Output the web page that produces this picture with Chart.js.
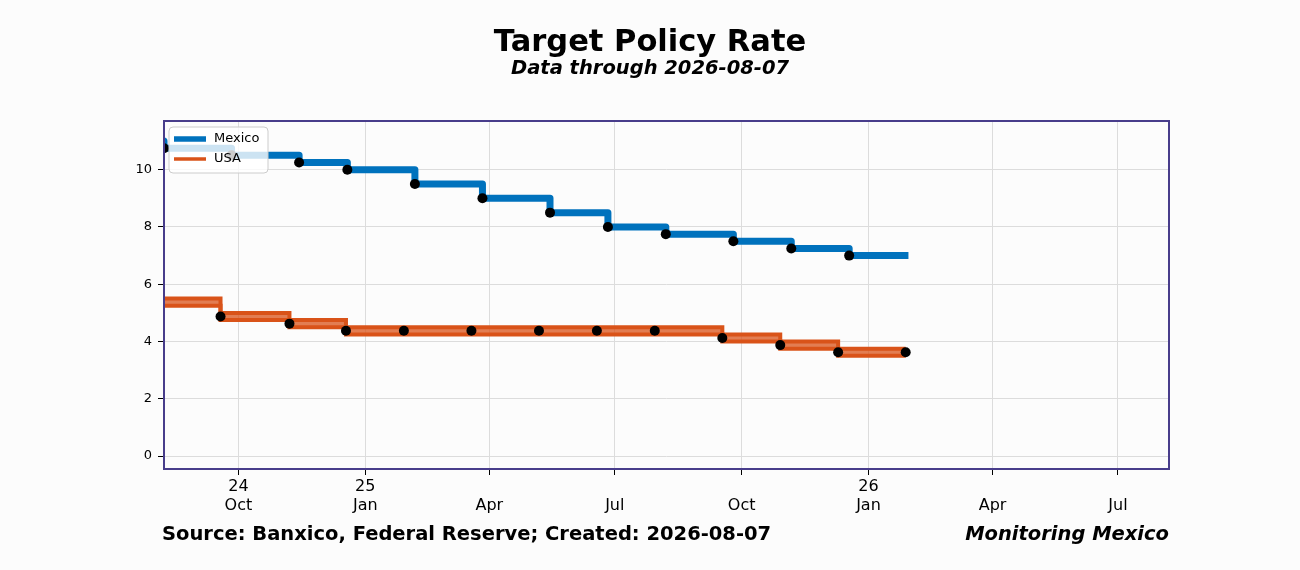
<!DOCTYPE html>
<html>
<head>
<meta charset="utf-8">
<script src="https://cdn.jsdelivr.net/npm/chart.js@4.4.1/dist/chart.umd.min.js"></script>
<style>
  body { margin: 0; background: #fcfcfc; }
  #wrap { width: 1300px; height: 570px; }
</style>
</head>
<body>
<div id="wrap"><canvas id="rates" width="1300" height="570"></canvas></div>
<script>
// Mexico target rate, decision dates (first point = rate before the window, last = end of data)
const mxDates = ['2024-08-07', '2024-08-08', '2024-09-26', '2024-11-14', '2024-12-19', '2025-02-06',
  '2025-03-27', '2025-05-15', '2025-06-26', '2025-08-07', '2025-09-25', '2025-11-06', '2025-12-18', '2026-01-30'];
const mxRates = [11.0, 10.75, 10.5, 10.25, 10.0, 9.5, 9.0, 8.5, 8.0, 7.75, 7.5, 7.25, 7.0, 7.0];

// USA fed funds target range
const usDates = ['2024-08-07', '2024-09-18', '2024-11-07', '2024-12-18', '2025-01-29', '2025-03-19',
  '2025-05-07', '2025-06-18', '2025-07-30', '2025-09-17', '2025-10-29', '2025-12-10', '2026-01-28'];
const usLower = [5.25, 4.75, 4.5, 4.25, 4.25, 4.25, 4.25, 4.25, 4.25, 4.0, 3.75, 3.5, 3.5];
const usUpper = [5.5, 5.0, 4.75, 4.5, 4.5, 4.5, 4.5, 4.5, 4.5, 4.25, 4.0, 3.75, 3.75];

// axis ticks
const xTickDates = ['2024-10-01', '2025-01-01', '2025-04-01', '2025-07-01', '2025-10-01', '2026-01-01', '2026-04-01', '2026-07-01'];
const xTickYears = ['24', '25', '', '', '', '26', '', ''];
const xTickMonths = ['Oct', 'Jan', 'Apr', 'Jul', 'Oct', 'Jan', 'Apr', 'Jul'];
const yTicks = [0, 2, 4, 6, 8, 10];

const xMin = '2024-08-08';
const xMax = '2026-08-07';

const BLUE = 'rgb(0,114,189)';
const ORANGE = 'rgb(217,83,25)';
const FONT = '"DejaVu Sans", sans-serif';

const toXY = (dates, vals) => dates.map((d, i) => ({ x: Date.parse(d), y: vals[i] }));
const usMid = usLower.map((v, i) => (v + usUpper[i]) / 2);

// hide the marker on the first (and optionally last) point
const dotRadius = (skipLast) => (ctx) => {
  const n = ctx.dataset.data.length;
  if (ctx.dataIndex === 0 || (skipLast && ctx.dataIndex === n - 1)) return 0;
  return 5;
};

// page background
const bgPlugin = {
  id: 'bg',
  beforeDraw(chart) {
    const c = chart.ctx;
    c.save();
    c.fillStyle = '#fcfcfc';
    c.fillRect(0, 0, chart.width, chart.height);
    c.restore();
  }
};

// titles, frame, legend box and footer
const extras = {
  id: 'extras',
  afterDraw(chart) {
    const c = chart.ctx;
    const a = chart.chartArea;
    c.save();

    // titles, centred on the page
    c.fillStyle = '#000';
    c.textAlign = 'center';
    c.textBaseline = 'middle';
    c.font = 'bold 30.5px ' + FONT;
    c.fillText('Target Policy Rate', chart.width / 2, 43);
    c.font = 'italic bold 19.5px ' + FONT;
    c.fillText('Data through 2026-08-07', chart.width / 2, 69);

    // plot frame
    c.strokeStyle = '#483d8b';
    c.lineWidth = 2;
    c.strokeRect(a.left, a.top, a.right - a.left, a.bottom - a.top);

    // legend
    const lx = a.left + 5, ly = a.top + 6;
    c.beginPath();
    c.roundRect(lx, ly, 99, 46, 4);
    c.fillStyle = 'rgba(255,255,255,0.8)';
    c.fill();
    c.strokeStyle = '#cccccc';
    c.lineWidth = 1;
    c.stroke();

    const entries = [
      { label: chart.data.datasets[0].label, color: BLUE, w: 5.5 },
      { label: chart.data.datasets[1].label, color: ORANGE, w: 3.5 }
    ];
    entries.forEach((e, i) => {
      const y = ly + 12 + i * 20;
      c.beginPath();
      c.moveTo(lx + 5, y);
      c.lineTo(lx + 37, y);
      c.strokeStyle = e.color;
      c.lineWidth = e.w;
      c.stroke();
      c.fillStyle = '#000';
      c.font = '13px ' + FONT;
      c.textBaseline = 'middle';
      c.textAlign = 'left';
      c.fillText(e.label, lx + 45, y);
    });

    // footer
    c.fillStyle = '#000';
    c.textBaseline = 'middle';
    c.font = 'bold 19.5px ' + FONT;
    c.textAlign = 'left';
    c.fillText('Source: Banxico, Federal Reserve; Created: 2026-08-07', 162, 535);
    c.font = 'italic bold 19.5px ' + FONT;
    c.textAlign = 'right';
    c.fillText('Monitoring Mexico', a.right, 535);

    c.restore();
  }
};

new Chart(document.getElementById('rates'), {
  type: 'line',
  data: {
    datasets: [
      {
        label: 'Mexico',
        data: toXY(mxDates, mxRates),
        borderColor: BLUE,
        borderWidth: 7,
        borderJoinStyle: 'round',
        stepped: 'before',
        pointRadius: dotRadius(true),
        pointBackgroundColor: '#000',
        pointBorderWidth: 0,
        order: 1
      },
      {
        label: 'USA',
        data: toXY(usDates, usUpper),
        borderColor: ORANGE,
        borderWidth: 4,
        stepped: 'before',
        pointRadius: 0,
        fill: '+1',
        backgroundColor: 'rgba(217,83,25,0.75)',
        order: 2
      },
      {
        label: 'USA lower',
        data: toXY(usDates, usLower),
        borderColor: ORANGE,
        borderWidth: 4,
        stepped: 'before',
        pointRadius: 0,
        order: 2
      },
      {
        label: 'USA mid',
        data: toXY(usDates, usMid),
        showLine: false,
        pointRadius: dotRadius(false),
        pointBackgroundColor: '#000',
        pointBorderWidth: 0,
        order: 0
      }
    ]
  },
  options: {
    responsive: false,
    animation: false,
    devicePixelRatio: 1,
    layout: { padding: { left: 114, right: 131, top: 121, bottom: 41 } },
    plugins: {
      legend: { display: false },
      tooltip: { enabled: false }
    },
    scales: {
      x: {
        type: 'linear',
        min: Date.parse(xMin),
        max: Date.parse(xMax),
        afterBuildTicks(scale) {
          scale.ticks = xTickDates.map(d => ({ value: Date.parse(d) }));
        },
        afterFit(scale) { scale.height = 60; },
        ticks: {
          autoSkip: false,
          maxRotation: 0,
          padding: 2,
          color: '#000',
          font: { family: FONT, size: 16 },
          callback(value, i) {
            return [xTickYears[i], xTickMonths[i]];
          }
        },
        grid: { color: '#dcdcdc', tickColor: '#000', tickLength: 6 },
        border: { display: false }
      },
      y: {
        min: -0.45,
        max: 11.7,
        afterBuildTicks(scale) {
          scale.ticks = yTicks.map(v => ({ value: v }));
        },
        afterFit(scale) { scale.width = 50; },
        ticks: {
          padding: 6,
          color: '#000',
          font: { family: FONT, size: 13 }
        },
        grid: { color: '#dcdcdc', tickColor: '#000', tickLength: 6 },
        border: { display: false }
      }
    }
  },
  plugins: [bgPlugin, extras]
});
</script>
</body>
</html>
